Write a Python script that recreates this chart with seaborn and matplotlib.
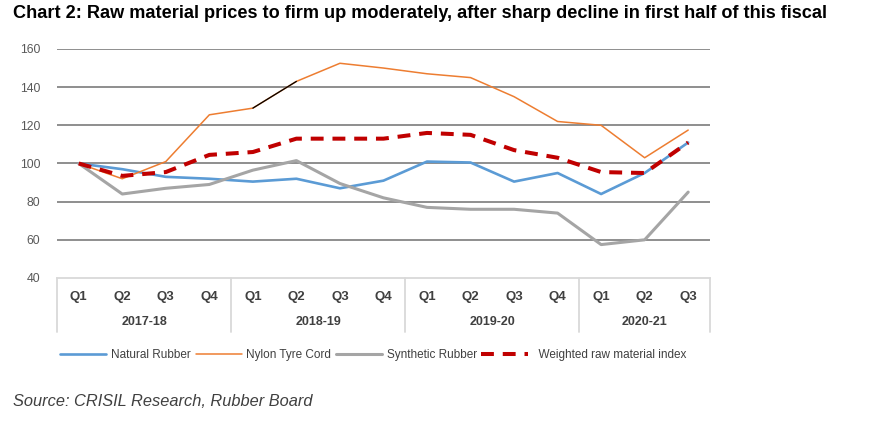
import matplotlib
matplotlib.use("Agg")
import matplotlib.pyplot as plt
import matplotlib.transforms as mtransforms
import seaborn as sns
import pandas as pd

# Chart data (index values)
quarters = ["Q1", "Q2", "Q3", "Q4"] * 3 + ["Q1", "Q2", "Q3"]
years = ["2017-18", "2018-19", "2019-20", "2020-21"]
year_sizes = [4, 4, 4, 3]

natural_rubber = [100, 97, 93, 92, 90.5, 92, 87, 91, 101, 100.5, 90.5, 95, 84, 95, 111]
nylon_tyre_cord = [100, 92, 101, 125.5, 129, 143, 152.5, 150, 147, 145, 135, 122, 120, 103, 117.5]
synthetic_rubber = [100, 84, 87, 89, 96.5, 101.5, 89.5, 82, 77, 76, 76, 74, 57.5, 60, 85]
weighted_index = [100, 93.5, 95.5, 104.5, 106, 113, 113, 113, 116, 115, 107, 103, 95.5, 95, 111]

yticks = [40, 60, 80, 100, 120, 140, 160]

sns.set_style("white")
plt.rcParams["font.family"] = ["Liberation Sans", "DejaVu Sans"]

idx = list(range(len(quarters)))
df = pd.DataFrame({
    "idx": idx,
    "Natural Rubber": natural_rubber,
    "Nylon Tyre Cord": nylon_tyre_cord,
    "Synthetic Rubber": synthetic_rubber,
    "Weighted raw material index": weighted_index,
})

fig = plt.figure(figsize=(8.86, 4.21), dpi=100)
ax = fig.add_axes([0.0643, 0.3397, 0.737, 0.544])

for y in yticks[1:]:
    ax.axhline(y, color="#868686", lw=1.3, zorder=0)

sns.lineplot(data=df, x="idx", y="Natural Rubber", ax=ax, color="#5b9bd5",
             lw=1.9, label="Natural Rubber")
sns.lineplot(data=df, x="idx", y="Nylon Tyre Cord", ax=ax, color="#ed7d31",
             lw=1.1, label="Nylon Tyre Cord")
sns.lineplot(data=df, x="idx", y="Synthetic Rubber", ax=ax, color="#a5a5a5",
             lw=2.2, label="Synthetic Rubber")
sns.lineplot(data=df, x="idx", y="Weighted raw material index", ax=ax,
             color="#c00000", lw=2.9, dashes=False, label="Weighted raw material index")
ax.lines[-1].set_dashes([3.2, 2.2])

# thin black stroke drawn over one segment of the nylon line
seg = df.iloc[4:6]
ax.plot(seg["idx"], seg["Nylon Tyre Cord"], color="black", lw=0.9)

ax.set_xlim(-0.5, len(quarters) - 0.5)
ax.set_ylim(40, 160)
ax.set_yticks(yticks)
ax.set_yticklabels([str(v) for v in yticks], color="#595959", fontsize=8.8)
ax.tick_params(axis="y", length=0, pad=12)
ax.set_xticks([])
ax.set_xlabel("")
ax.set_ylabel("")
for s in ["left", "right", "top"]:
    ax.spines[s].set_visible(False)
ax.spines["bottom"].set_color("#d9d9d9")
ax.spines["bottom"].set_linewidth(1.3)

# two-level category axis
trans = mtransforms.blended_transform_factory(ax.transData, ax.transAxes)
for i, q in enumerate(quarters):
    ax.text(i, -0.083, q, transform=trans, ha="center", va="center",
            fontsize=9.5, fontweight="bold", color="#404040")
start = 0
edges = [-0.5]
for yr, n in zip(years, year_sizes):
    ax.text(start + (n - 1) / 2, -0.194, yr, transform=trans, ha="center",
            va="center", fontsize=9, fontweight="bold", color="#404040")
    start += n
    edges.append(start - 0.5)
for e in edges:
    ax.plot([e, e], [0, -0.236], transform=trans, color="#d9d9d9", lw=1.3,
            clip_on=False)

ax.get_legend().remove()
handles, labels = ax.get_legend_handles_labels()
labels = labels[:3] + ["  " + labels[3]]
fig.legend(handles[:4], labels, loc="center", bbox_to_anchor=(0.4215, 0.157),
           ncol=4, frameon=False, fontsize=8.5, handlelength=3.9,
           columnspacing=0.4, handletextpad=0.4, labelcolor="#404040")

fig.text(0.0147, 0.967, "Chart 2: Raw material prices to firm up moderately, after sharp decline in first half of this fiscal",
         fontsize=13.1, fontweight="bold", color="black", va="center")
fig.text(0.0147, 0.047, "Source: CRISIL Research, Rubber Board", fontsize=11.8,
         style="italic", color="#404040", va="center")

fig.savefig("out.png", dpi=100)
